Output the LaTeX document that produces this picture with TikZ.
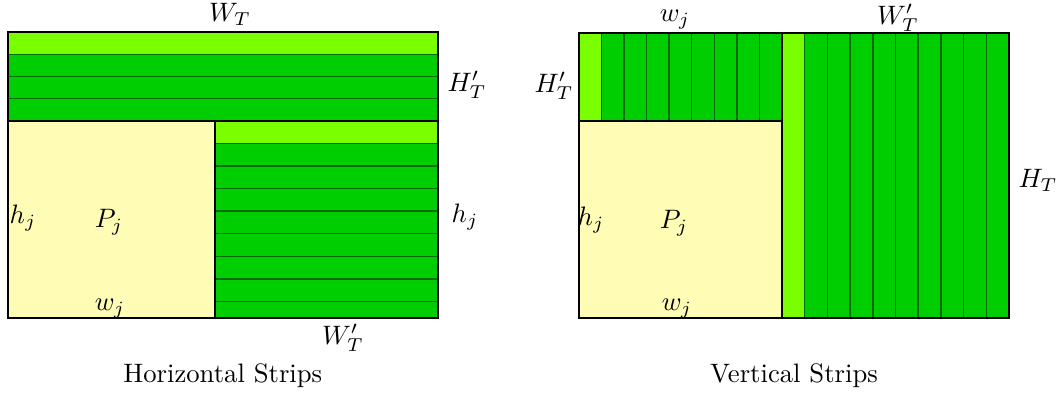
\documentclass[tikz,border=0pt]{standalone}
\definecolor{lgreen}{RGB}{122,255,0}
\definecolor{dgreen}{RGB}{0,206,0}
\definecolor{sline}{RGB}{0,105,0}
\definecolor{pale}{RGB}{255,252,182}
\tikzset{
  region/.style={draw=black, line width=0.75pt},
  stripline/.style={draw=sline, line width=0.55pt},
  lbl/.style={inner sep=0pt, font=\normalsize},
}
\begin{document}
\begin{tikzpicture}[x=0.375pt, y=-0.375pt]
\useasboundingbox (0,0) rectangle (1064,394);
% ---------- Horizontal strips ----------
\fill[dgreen] (8,32.3) rectangle (437.7,120.7);
\fill[lgreen] (8,32.3) rectangle (437.7,54.4);
\fill[pale] (8,120.7) rectangle (215,318.3);
\fill[dgreen] (215,120.7) rectangle (437.7,318.3);
\fill[lgreen] (215,120.7) rectangle (437.7,143.3);
\foreach \y in {54.4,76.5,98.6} \draw[stripline] (8,\y) -- (437.7,\y);
\foreach \k in {1,...,8} \draw[stripline] (215,120.7+22.6*\k) -- (437.7,120.7+22.6*\k);
\draw[region] (8,120.7) -- (437.7,120.7);
\draw[region] (215,120.7) -- (215,318.3);
\draw[region] (8,32.3) rectangle (437.7,318.3);
\node[lbl] (hWT) at (230,14) {$W_T$};
\node[lbl] (hHT) at (467,85) {$H'_T$};
\node[lbl] (hhjr) at (465,217) {$h_j$};
\node[lbl] (hhjl) at (23,218) {$h_j$};
\node[lbl] (hPj) at (109,222) {$P_j$};
\node[lbl] (hwj) at (110,309) {$w_j$};
\node[lbl] (hWTp) at (343,338) {$W'_T$};
\node[lbl] (hcap) at (222.8,376) {Horizontal Strips};
% ---------- Vertical strips ----------
\fill[dgreen] (579,32.7) rectangle (782,120.7);
\fill[lgreen] (579,32.7) rectangle (601.5,120.7);
\fill[pale] (579,120.7) rectangle (782,318.3);
\fill[dgreen] (782,32.7) rectangle (1009,318.3);
\fill[lgreen] (782,32.7) rectangle (804.7,318.3);
\foreach \k in {1,...,8} \draw[stripline] (579+22.55*\k,32.7) -- (579+22.55*\k,120.7);
\foreach \k in {1,...,9} \draw[stripline] (782+22.7*\k,32.7) -- (782+22.7*\k,318.3);
\draw[region] (579,120.7) -- (782,120.7);
\draw[region] (782,32.7) -- (782,318.3);
\draw[region] (579,32.7) rectangle (1009,318.3);
\node[lbl] (vwjt) at (675,20) {$w_j$};
\node[lbl] (vWTp) at (898,18) {$W'_T$};
\node[lbl] (vHTp) at (554,86) {$H'_T$};
\node[lbl] (vHT) at (1038,180) {$H_T$};
\node[lbl] (vhj) at (591,220) {$h_j$};
\node[lbl] (vPj) at (674,223) {$P_j$};
\node[lbl] (vwjb) at (677,309) {$w_j$};
\node[lbl] (vcap) at (794,376) {Vertical Strips};
\end{tikzpicture}
\end{document}
